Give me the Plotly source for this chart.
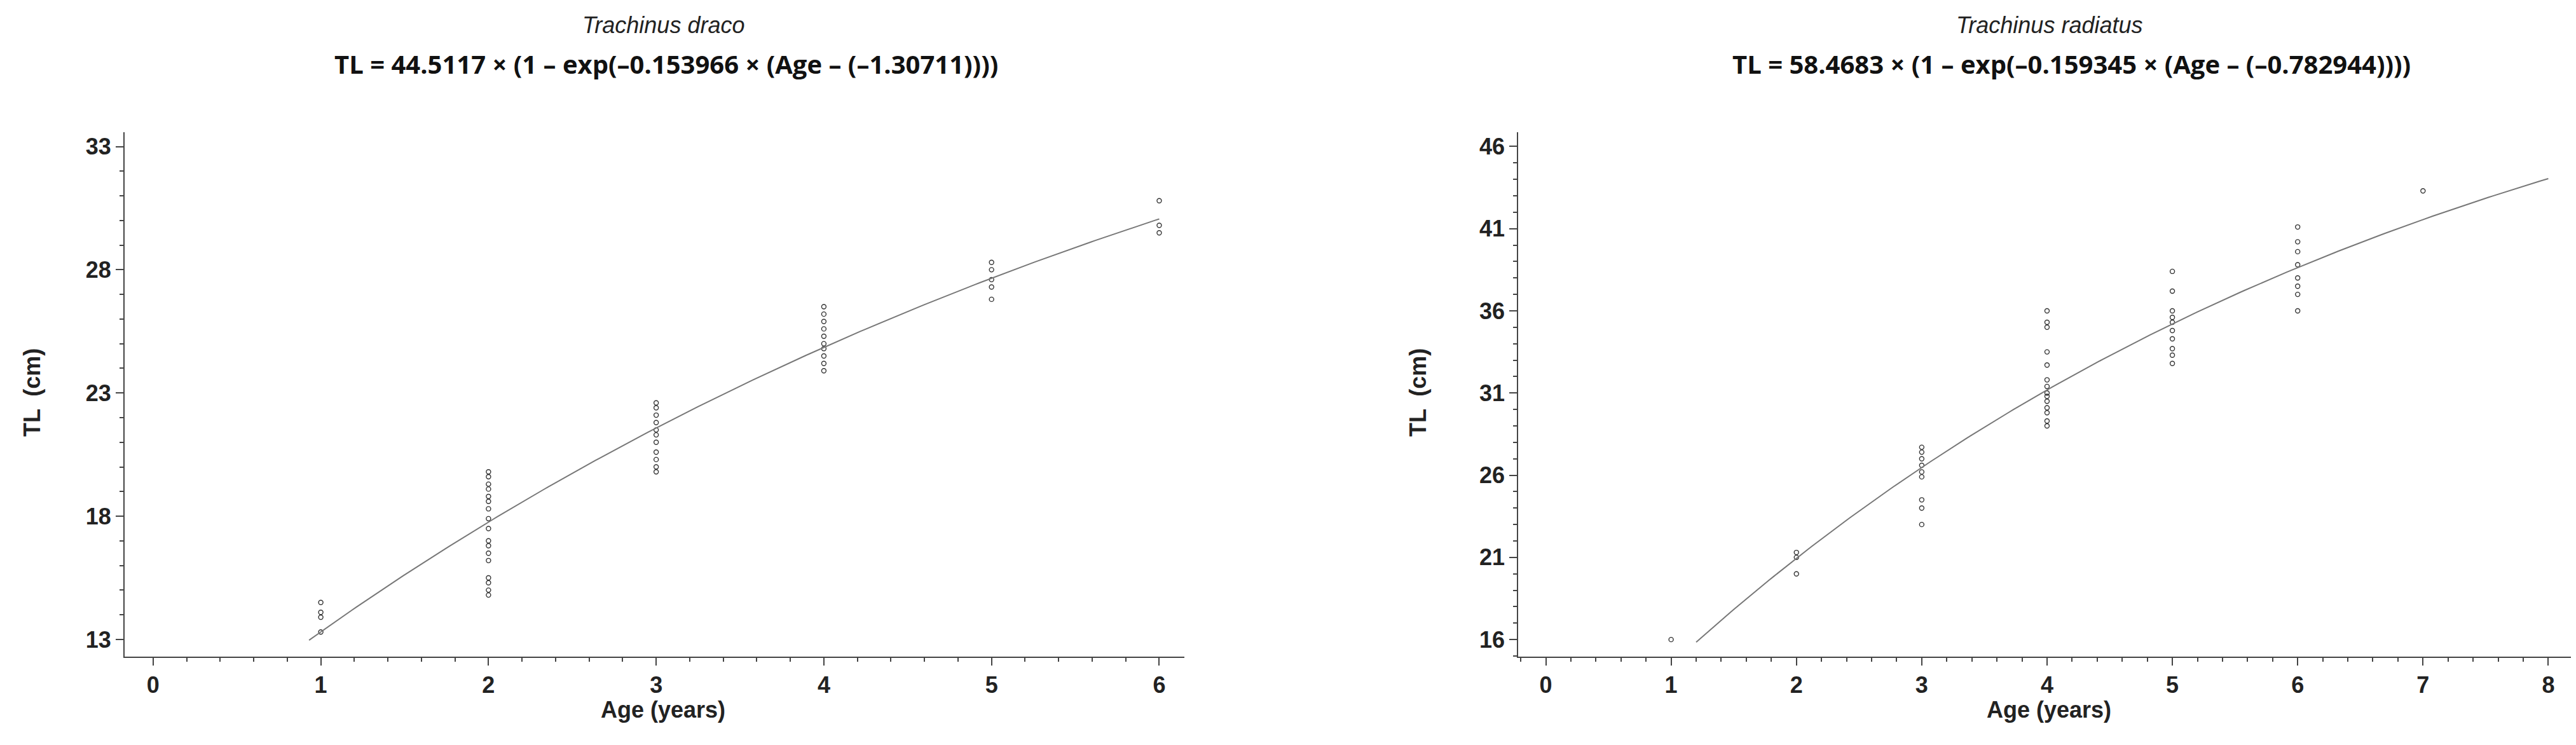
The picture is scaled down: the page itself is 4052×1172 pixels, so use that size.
import numpy as np
import plotly.graph_objects as go

# Trachinus draco observations
draco_age = [1]*4 + [2]*17 + [3]*11 + [4]*10 + [5]*5 + [6]*3
draco_tl = [13.3, 13.9, 14.1, 14.5,
            14.8, 15.0, 15.3, 15.5, 16.2, 16.5, 16.8, 17.0, 17.5, 17.9, 18.3, 18.6, 18.8, 19.1, 19.3, 19.6, 19.8,
            19.8, 20.0, 20.3, 20.6, 21.0, 21.3, 21.5, 21.8, 22.1, 22.4, 22.6,
            23.9, 24.2, 24.5, 24.8, 25.0, 25.3, 25.6, 25.9, 26.2, 26.5,
            26.8, 27.3, 27.6, 28.0, 28.3,
            29.5, 29.8, 30.8]
# Trachinus radiatus observations
rad_age = [1] + [2]*3 + [3]*9 + [4]*14 + [5]*10 + [6]*8 + [7]
rad_tl = [16.0,
          20.0, 21.0, 21.3,
          23.0, 24.0, 24.5, 25.9, 26.2, 26.6, 27.0, 27.4, 27.7,
          29.0, 29.3, 29.8, 30.1, 30.5, 30.8, 31.0, 31.4, 31.8, 32.7, 33.5, 35.0, 35.3, 36.0,
          32.8, 33.3, 33.7, 34.3, 34.8, 35.3, 35.6, 36.0, 37.2, 38.4,
          36.0, 37.0, 37.5, 38.0, 38.8, 39.6, 40.2, 41.1,
          43.3]
# von Bertalanffy parameters (from the titles)
draco_params = (44.5117, 0.153966, -1.30711)
rad_params = (58.4683, 0.159345, -0.782944)
draco_curve_range = (0.93, 6.0)
rad_curve_range = (1.2, 8.0)

def vb(p, x):
    return p[0] * (1 - np.exp(-p[1] * (x - p[2])))

fig = go.Figure()
mk = dict(symbol="circle-open", size=7, color="#333", line=dict(width=1.4))
fig.add_trace(go.Scatter(x=draco_age, y=draco_tl, mode="markers", marker=mk, xaxis="x", yaxis="y"))
xd = np.linspace(*draco_curve_range, 200)
fig.add_trace(go.Scatter(x=xd, y=vb(draco_params, xd), mode="lines", line=dict(color="#777", width=2), xaxis="x", yaxis="y"))
fig.add_trace(go.Scatter(x=rad_age, y=rad_tl, mode="markers", marker=mk, xaxis="x2", yaxis="y2"))
xr = np.linspace(*rad_curve_range, 200)
fig.add_trace(go.Scatter(x=xr, y=vb(rad_params, xr), mode="lines", line=dict(color="#777", width=2), xaxis="x2", yaxis="y2"))

F = "Liberation Sans"
ax = dict(showgrid=False, zeroline=False, showline=True, linecolor="#444", linewidth=2,
          ticks="outside", ticklen=12, tickwidth=2, tickcolor="#444",
          tickfont=dict(family=F, size=36, color="#222", weight="bold"))
yd = [0.1254, 0.829]
fig.update_layout(
    width=4052, height=1172, showlegend=False, plot_bgcolor="white", paper_bgcolor="white",
    margin=dict(l=0, r=0, t=0, b=0),
    xaxis=dict(ax, domain=[0.0464, 0.4578], range=[-0.17, 6.15], dtick=1, anchor="y",
               minor=dict(dtick=0.2, ticks="outside", ticklen=6, tickcolor="#444")),
    yaxis=dict(ax, domain=yd, range=[12.3, 33.57], tickvals=[13, 18, 23, 28, 33], anchor="x",
               minor=dict(dtick=1, tick0=13, ticks="outside", ticklen=6, tickcolor="#444")),
    xaxis2=dict(ax, domain=[0.5874, 0.997], range=[-0.22, 8.2], dtick=1, anchor="y2",
                minor=dict(dtick=0.2, ticks="outside", ticklen=6, tickcolor="#444")),
    yaxis2=dict(ax, domain=yd, range=[14.96, 46.85], tickvals=[16, 21, 26, 31, 36, 41, 46], anchor="x2",
                minor=dict(dtick=1, tick0=16, ticks="outside", ticklen=6, tickcolor="#444")),
)
ann = []
for xc, name in [(1035, "Trachinus draco"), (3215, "Trachinus radiatus")]:
    ann.append(dict(x=xc/4052, y=1-32/1172, text=f"<i>{name}</i>", font=dict(family=F, size=36, color="#222")))
eq1 = "TL = 44.5117 × (1 – exp(–0.153966 × (Age – (–1.30711))))"
eq2 = "TL = 58.4683 × (1 – exp(–0.159345 × (Age – (–0.782944))))"
ann.append(dict(x=1040/4052, y=1-92/1172, text=f"<b>{eq1}</b>", font=dict(family="Open Sans", size=40, color="#111")))
ann.append(dict(x=3250/4052, y=1-92/1172, text=f"<b>{eq2}</b>", font=dict(family="Open Sans", size=40, color="#111")))
for xc in (1035, 3215):
    ann.append(dict(x=xc/4052, y=1-1108/1172, text="<b>Age (years)</b>", font=dict(family=F, size=36, color="#222")))
for xc in (42, 2222):
    ann.append(dict(x=xc/4052, y=1-610/1172, text="<b>TL  (cm)</b>", textangle=-90, font=dict(family=F, size=36, color="#222")))
for a in ann:
    a.update(xref="paper", yref="paper", showarrow=False, xanchor="center", yanchor="middle")
fig.update_layout(annotations=ann)
fig.write_html("out.html")
